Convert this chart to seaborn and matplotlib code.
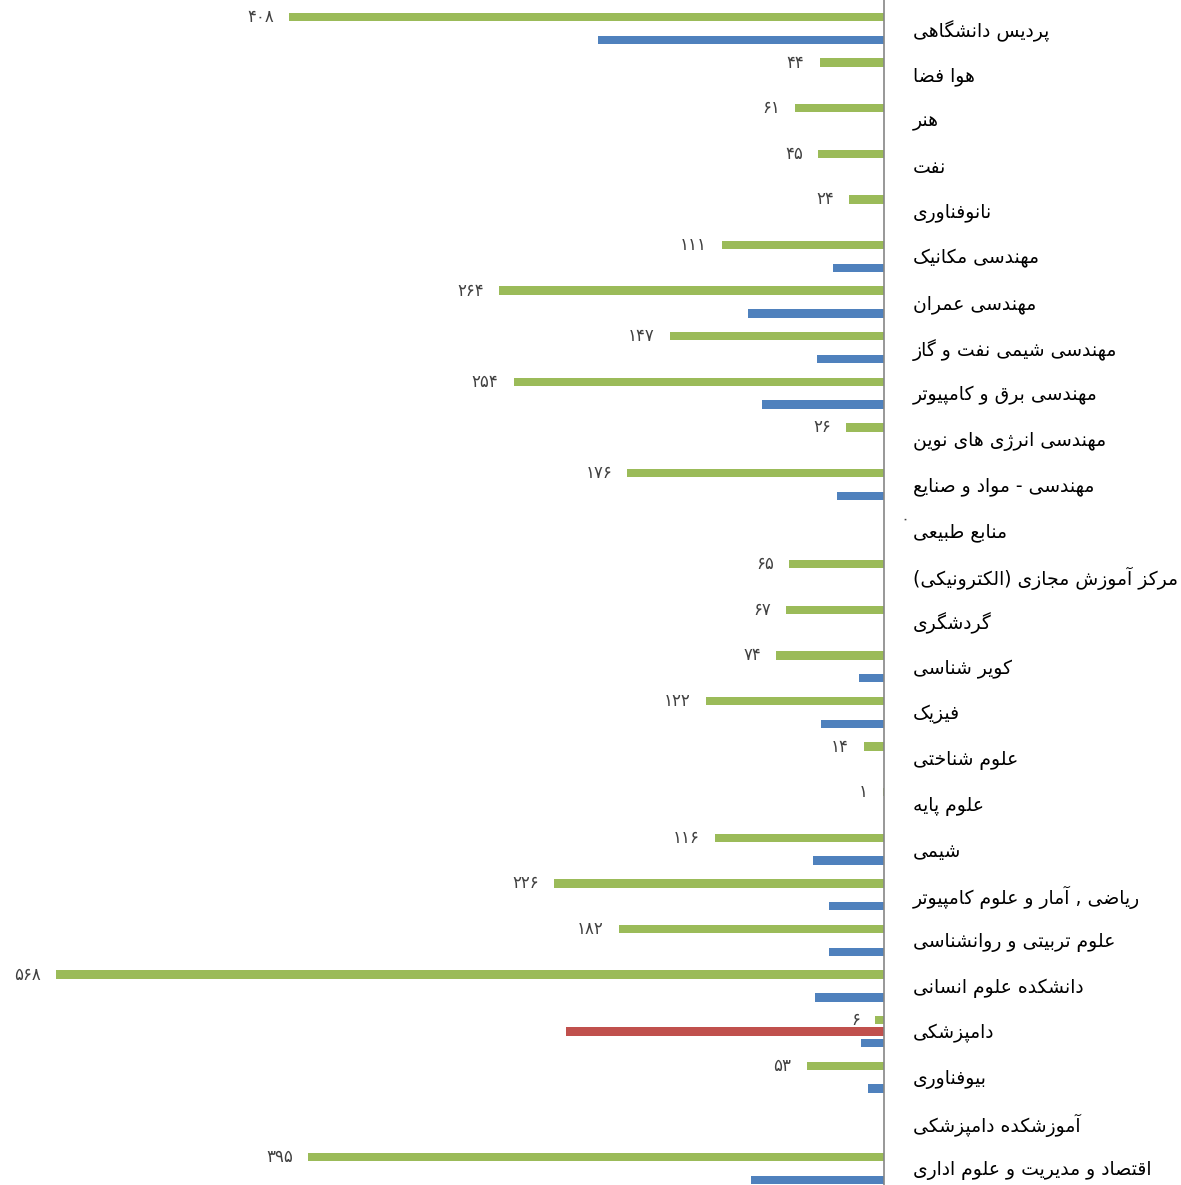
import numpy as np
import pandas as pd
import seaborn as sns
import matplotlib.pyplot as plt

# Categories (top to bottom)
categories = [
    'پردیس دانشگاهی', 'هوا فضا', 'هنر', 'نفت', 'نانوفناوری',
    'مهندسی مکانیک', 'مهندسی عمران', 'مهندسی شیمی نفت و گاز',
    'مهندسی برق و کامپیوتر', 'مهندسی انرژی های نوین',
    'مهندسی - مواد و صنایع', 'منابع طبیعی',
    'مرکز آموزش مجازی (الکترونیکی)', 'گردشگری', 'کویر شناسی', 'فیزیک',
    'علوم شناختی', 'علوم پایه', 'شیمی', 'ریاضی , آمار و علوم کامپیوتر',
    'علوم تربیتی و روانشناسی', 'دانشکده علوم انسانی', 'دامپزشکی',
    'بیوفناوری', 'آموزشکده دامپزشکی', 'اقتصاد و مدیریت و علوم اداری',
]
nan = np.nan
green_values = [408, 44, 61, 45, 24, 111, 264, 147, 254, 26, 176, 0, 65, 67,
                74, 122, 14, 1, 116, 226, 182, 568, 6, 53, nan, 395]
red_values = [nan] * 22 + [218] + [nan] * 3
blue_values = [196, nan, nan, nan, nan, 35, 93, 46, 84, nan, 32, nan, nan, nan,
               17, 43, nan, nan, 49, 38, 38, 47, 16, 11, nan, 91]
series_names = ['green', 'red', 'blue']
series_colors = ['#9BBB59', '#C0504D', '#4F81BD']

# --- simple Arabic/Persian shaping (matplotlib has no shaping / bidi) ---
FORMS = {
    'ء': (0xFE80,), 'آ': (0xFE81, 0xFE82), 'أ': (0xFE83, 0xFE84),
    'ؤ': (0xFE85, 0xFE86), 'إ': (0xFE87, 0xFE88),
    'ئ': (0xFE89, 0xFE8A, 0xFE8B, 0xFE8C), 'ا': (0xFE8D, 0xFE8E),
    'ب': (0xFE8F, 0xFE90, 0xFE91, 0xFE92), 'ة': (0xFE93, 0xFE94),
    'ت': (0xFE95, 0xFE96, 0xFE97, 0xFE98), 'ث': (0xFE99, 0xFE9A, 0xFE9B, 0xFE9C),
    'ج': (0xFE9D, 0xFE9E, 0xFE9F, 0xFEA0), 'ح': (0xFEA1, 0xFEA2, 0xFEA3, 0xFEA4),
    'خ': (0xFEA5, 0xFEA6, 0xFEA7, 0xFEA8), 'د': (0xFEA9, 0xFEAA),
    'ذ': (0xFEAB, 0xFEAC), 'ر': (0xFEAD, 0xFEAE), 'ز': (0xFEAF, 0xFEB0),
    'س': (0xFEB1, 0xFEB2, 0xFEB3, 0xFEB4), 'ش': (0xFEB5, 0xFEB6, 0xFEB7, 0xFEB8),
    'ص': (0xFEB9, 0xFEBA, 0xFEBB, 0xFEBC), 'ض': (0xFEBD, 0xFEBE, 0xFEBF, 0xFEC0),
    'ط': (0xFEC1, 0xFEC2, 0xFEC3, 0xFEC4), 'ظ': (0xFEC5, 0xFEC6, 0xFEC7, 0xFEC8),
    'ع': (0xFEC9, 0xFECA, 0xFECB, 0xFECC), 'غ': (0xFECD, 0xFECE, 0xFECF, 0xFED0),
    'ف': (0xFED1, 0xFED2, 0xFED3, 0xFED4), 'ق': (0xFED5, 0xFED6, 0xFED7, 0xFED8),
    'ك': (0xFED9, 0xFEDA, 0xFEDB, 0xFEDC), 'ل': (0xFEDD, 0xFEDE, 0xFEDF, 0xFEE0),
    'م': (0xFEE1, 0xFEE2, 0xFEE3, 0xFEE4), 'ن': (0xFEE5, 0xFEE6, 0xFEE7, 0xFEE8),
    'ه': (0xFEE9, 0xFEEA, 0xFEEB, 0xFEEC), 'و': (0xFEED, 0xFEEE),
    'ى': (0xFEEF, 0xFEF0), 'ي': (0xFEF1, 0xFEF2, 0xFEF3, 0xFEF4),
    'پ': (0xFB56, 0xFB57, 0xFB58, 0xFB59), 'چ': (0xFB7A, 0xFB7B, 0xFB7C, 0xFB7D),
    'ژ': (0xFB8A, 0xFB8B), 'ک': (0xFB8E, 0xFB8F, 0xFB90, 0xFB91),
    'گ': (0xFB92, 0xFB93, 0xFB94, 0xFB95), 'ی': (0xFBFC, 0xFBFD, 0xFBFE, 0xFBFF),
}
LAM_ALEF = {'ا': (0xFEFB, 0xFEFC), 'آ': (0xFEF5, 0xFEF6),
            'أ': (0xFEF7, 0xFEF8), 'إ': (0xFEF9, 0xFEFA)}


def shape(text):
    chars = list(text)
    n = len(chars)
    res = []
    i = 0
    while i < n:
        c = chars[i]
        if c not in FORMS:
            res.append(c)
            i += 1
            continue
        prev = chars[i - 1] if i > 0 else None
        con_prev = prev in FORMS and len(FORMS[prev]) == 4
        if c == 'ل' and i + 1 < n and chars[i + 1] in LAM_ALEF:
            iso, fin = LAM_ALEF[chars[i + 1]]
            res.append(chr(fin if con_prev else iso))
            i += 2
            continue
        f = FORMS[c]
        nxt = chars[i + 1] if i + 1 < n else None
        con_next = len(f) == 4 and nxt in FORMS
        if len(f) == 1:
            g = f[0]
        elif con_prev and con_next:
            g = f[3]
        elif con_prev:
            g = f[1]
        elif con_next:
            g = f[2]
        else:
            g = f[0]
        res.append(chr(g))
        i += 1
    mirror = {'(': ')', ')': '('}
    return ''.join(mirror.get(ch, ch) for ch in reversed(res))


def fa_digits(v):
    return str(int(v)).translate(str.maketrans('0123456789', '۰۱۲۳۴۵۶۷۸۹'))


# long table for seaborn
df = pd.DataFrame({
    'category': categories * 3,
    'series': [s for s in series_names for _ in categories],
    'value': green_values + red_values + blue_values,
})

sns.set_style('white')
plt.rcParams['font.family'] = ['DejaVu Sans']

fig = plt.figure(figsize=(11.81, 11.85), dpi=100)
ax = fig.add_axes([0, 0, 884 / 1181, 1])

sns.barplot(data=df, y='category', x='value', hue='series', order=categories,
            hue_order=series_names, palette=series_colors, orient='h',
            width=0.75, gap=0.25, saturation=1, errorbar=None, linewidth=0,
            legend=False, ax=ax)

ax.set_xlim(606.3, 0)
ax.set_ylim(25.364, -0.623)
ax.set_xlabel('')
ax.set_ylabel('')
ax.set_xticks([])
for s in ['top', 'bottom', 'left']:
    ax.spines[s].set_visible(False)
ax.spines['right'].set_color('#868686')
ax.spines['right'].set_linewidth(1.2)

ax.yaxis.tick_right()
ax.set_yticks(range(len(categories)))
ax.set_yticklabels([shape(c) for c in categories], fontsize=13.5, color='black')
ax.tick_params(axis='y', length=0, pad=21)
for lab in ax.get_yticklabels():
    lab.set_horizontalalignment('left')

# data labels for the green series
for i, v in enumerate(green_values):
    if np.isnan(v):
        continue
    y = i - 0.25
    if v == 0:
        ax.annotate(fa_digits(v), xy=(0, y), xytext=(15, 0),
                    textcoords='offset points', ha='center', va='center',
                    fontsize=12, color='#404040')
    else:
        ax.annotate(fa_digits(v), xy=(v, y), xytext=(-11, 0),
                    textcoords='offset points', ha='right', va='center',
                    fontsize=12, color='#404040')

fig.savefig('out.png', dpi=100)
